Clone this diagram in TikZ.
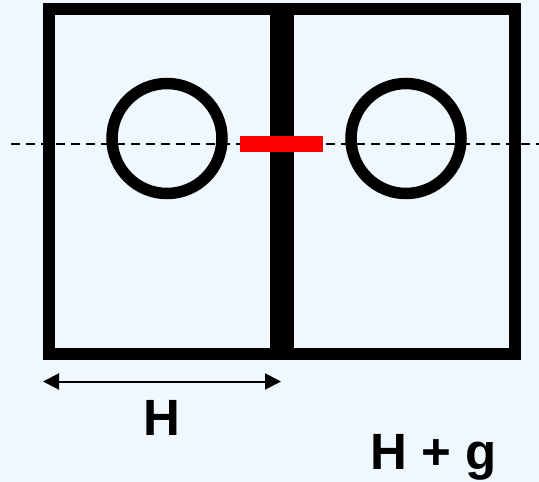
\documentclass[tikz,border=0pt]{standalone}
\usepackage{fontspec}
\setmainfont{Liberation Sans}
\usetikzlibrary{arrows.meta}
\definecolor{Pale}{HTML}{F0F8FF}
\definecolor{Bar}{HTML}{FF0000}

\begin{document}
\begin{tikzpicture}[x=1pt,y=-1pt,>={Triangle[length=16pt,width=16pt]},
  cell/.style={draw=black,line width=12pt},
  ring/.style={draw=black,line width=11.5pt,circle,minimum size=110pt,inner sep=0pt},
  lbl/.style={font=\bfseries\fontsize{51}{51}\selectfont,anchor=base,inner sep=0pt}]
\fill[Pale](0,0) rectangle (539,482);
\useasboundingbox (0,0) rectangle (539,482);
% axis
\coordinate(ax0) at (11,143.5);
\coordinate(ax1) at (539,143.5);
\draw[line width=2pt,dash pattern=on 9pt off 6pt](ax0)--(ax1);
% two cells
\draw[cell](49,9) rectangle (276,354);
\draw[cell](288,9) rectangle (515,354);
\node[ring](cl) at (167,138.5){};
\node[ring](cr) at (406,138.5){};
% gap
\fill[Bar](240,136) rectangle (323,152);
% dimension
\coordinate(d0) at (43,381.5);
\coordinate(d1) at (281,381.5);
\draw[<->,line width=2pt](d0)--(d1);
\node[lbl](h) at (162,435){H};
\node[lbl](hg) at (433.5,469){H + g};
\end{tikzpicture}
\end{document}
